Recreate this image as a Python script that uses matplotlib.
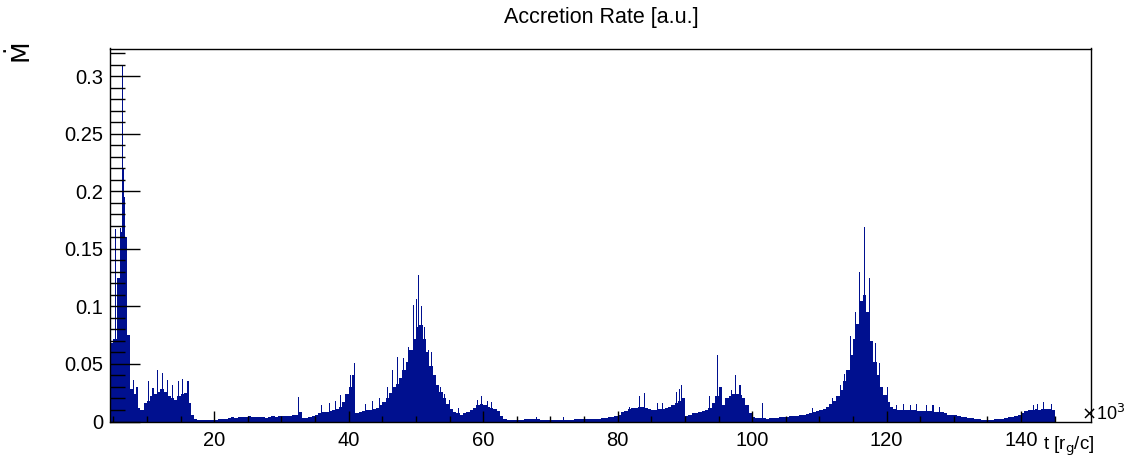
import numpy as np
import matplotlib
matplotlib.use('Agg')
import matplotlib.pyplot as plt
from matplotlib.ticker import MultipleLocator, FixedLocator

# accretion rate per 0.5 (x10^3 r_g/c) bin, in units of 1e-3, bins start at t = 4.5
rate_milli = [
    # 4.5 - 16.5
    68, 72, 125, 165, 160, 75, 28, 24, 12, 10, 16, 18, 22, 24, 26, 28, 26, 22, 20, 19, 22, 24, 25, 16, 6,
    # 17 - 29.5
    2, 1.5, 1, 1, 1.5, 1, 1.5, 2, 2, 2.5, 3, 3.5, 3, 3.5, 4, 4, 4.5, 4, 3.5, 4, 3.5, 3, 4, 4.5, 4, 4.5,
    # 30 - 40.5
    4.5, 5, 5, 5.5, 6, 8, 3, 3, 4, 5, 6, 7, 8, 8, 9, 10, 11, 13, 17, 24, 30, 40,
    # 41 - 46.5
    7, 8, 9, 10, 10, 11, 12, 14, 17, 20, 25, 30,
    # 47 - 52.5
    33, 38, 45, 52, 62, 72, 82, 84, 72, 60, 48, 40,
    # 53 - 57.5
    32, 26, 20, 15, 11, 8, 7, 6, 7, 8,
    # 58 - 63
    10, 12, 14, 15, 14, 13, 12, 11, 9, 5, 2,
    # 63.5 - 79.5
    1.5, 1.5, 1, 1, 1.5, 2, 2, 2.5, 2, 2, 1.5, 1.5, 1, 1, 1, 1.5, 1, 1, 1.5, 1.5,
    2, 2, 2, 2.5, 2, 2, 2.5, 2.5, 3, 3, 3.5, 4, 4.5,
    # 80 - 89.5
    6, 8, 9, 11, 12, 12, 13, 13, 12, 11, 10, 10, 11, 11, 12, 13, 14, 16, 18, 20,
    # 90 - 100.5
    5, 6, 7, 7, 8, 9, 10, 12, 16, 22, 30, 14, 20, 22, 24, 24, 23, 20, 14, 7, 4, 3,
    # 101 - 109.5
    3, 3, 2.5, 3, 3, 3, 3.5, 4, 4, 4.5, 5, 5, 5.5, 6, 6.5, 7, 8, 9,
    # 110 - 120.5
    10, 11, 13, 15, 18, 22, 27, 35, 45, 58, 72, 85, 105, 110, 95, 70, 52, 40, 30, 23, 17, 13,
    # 121 - 144.5
    11, 10, 10, 10, 10, 10, 10, 9.5, 9, 9, 9, 9, 8.5, 8, 8, 7, 6, 6, 5.5, 5,
    4, 3.5, 3, 3, 2.5, 2, 1.5, 1, 1, 1.5, 2, 2, 2.5, 3, 3.5, 4, 5, 6, 7, 9,
    10, 10, 10.5, 10, 11, 11, 11, 10,
]

# single-bin spikes (t in 10^3 r_g/c, value in 1e-3)
spike_t = [5.35, 6.1, 6.33, 6.45, 6.6, 6.75, 8.0, 8.4, 8.6, 10.2, 10.9, 11.5, 12.3, 13.0, 13.8, 14.7,
           15.3, 16.1, 32.6, 36.0, 37.2, 38.0, 38.8, 40.3, 40.8, 42.5, 43.6, 44.6, 45.8, 46.5, 47.3,
           48.1, 48.9, 49.6, 50.1, 50.35, 50.8, 51.3, 51.9, 52.3, 53.6, 54.2, 55.0, 56.3, 59.2, 59.8,
           60.6, 61.3, 68.0, 72.0, 81.8, 83.2, 84.0, 85.9, 86.7, 88.7, 89.2, 89.5, 93.6, 94.9, 96.9,
           97.5, 98.2, 101.6, 109.0, 112.0, 112.6, 113.2, 113.8, 114.6, 115.4, 116.0, 116.75, 117.5,
           118.3, 118.9, 120.2, 121.5, 122.5, 123.5, 124.5, 125.9, 126.9, 127.9, 141.8, 142.5, 143.4,
           144.5]
spike_milli = [167, 168, 310, 220, 195, 150, 36, 30, 30, 35, 29, 45, 42, 36, 32, 35,
               37, 35, 21, 14, 16, 18, 23, 40, 51, 15, 18, 20, 30, 45, 56,
               55, 65, 101, 106, 127, 100, 82, 62, 60, 30, 24, 19, 12, 19, 22,
               18, 17, 4, 4, 13, 22, 25, 16, 16, 26, 28, 32, 22, 58, 27,
               40, 32, 16, 12, 20, 22, 32, 41, 74, 95, 130, 169, 125,
               68, 51, 30, 14, 15, 14, 15, 14, 14, 13, 14, 15, 17,
               15]

y_ticks = [0, 0.05, 0.1, 0.15, 0.2, 0.25, 0.3]
y_labels = ['0', '0.05', '0.1', '0.15', '0.2', '0.25', '0.3']
x_ticks = [20, 40, 60, 80, 100, 120, 140]

t_edges = np.arange(4.5, 145.01, 0.5)
rate = np.array(rate_milli) / 1000.0
spikes = np.array(spike_milli) / 1000.0

color = '#00108f'
font = 'Liberation Sans'

fig = plt.figure(figsize=(11.26, 4.58), dpi=100)
ax = fig.add_axes([110 / 1126, 1 - 421.5 / 458, 981 / 1126, 373 / 458])

ax.bar(t_edges[:-1], rate, width=0.5, align='edge', color=color, linewidth=0)
ax.bar(spike_t, spikes, width=0.16, align='center', color=color, linewidth=0)

ax.set_xlim(4.5, 150.4)
ax.set_ylim(0, 0.324)

for s in ax.spines.values():
    s.set_linewidth(1.0)
    s.set_color('black')

ax.yaxis.set_major_locator(FixedLocator(y_ticks))
ax.set_yticklabels(y_labels)
ax.yaxis.set_minor_locator(MultipleLocator(0.01))
ax.xaxis.set_major_locator(FixedLocator(x_ticks))
ax.xaxis.set_minor_locator(FixedLocator(np.arange(5, 150, 5)))

ax.tick_params(axis='y', which='major', direction='in', length=21.6, width=1, pad=5,
               labelsize=14.5, right=False)
ax.tick_params(axis='y', which='minor', direction='in', length=10.8, width=1, right=False)
ax.tick_params(axis='x', which='major', direction='in', length=8, width=1, pad=7,
               labelsize=14.5, top=False)
ax.tick_params(axis='x', which='minor', direction='in', length=4, width=1, top=False)
for lab in ax.get_xticklabels() + ax.get_yticklabels():
    lab.set_fontfamily(font)

fig.text(601 / 1126, 1 - 17 / 458, 'Accretion Rate [a.u.]', ha='center', va='center',
         fontsize=15.5, family=font)
fig.text(21 / 1126, 1 - 53 / 458, r'$\dot{\mathrm{M}}$', rotation=90, ha='center', va='center',
         fontsize=18, family=font)
fig.text(1094 / 1126, 1 - 446 / 458, r't [r$_\mathrm{g}$/c]', ha='right', va='center',
         fontsize=13.5, family=font)
fig.text(1125 / 1126, 1 - 414 / 458, r'$\times$10$^3$', ha='right', va='center',
         fontsize=13, family=font)

fig.savefig('out.png', dpi=100, facecolor='white')
